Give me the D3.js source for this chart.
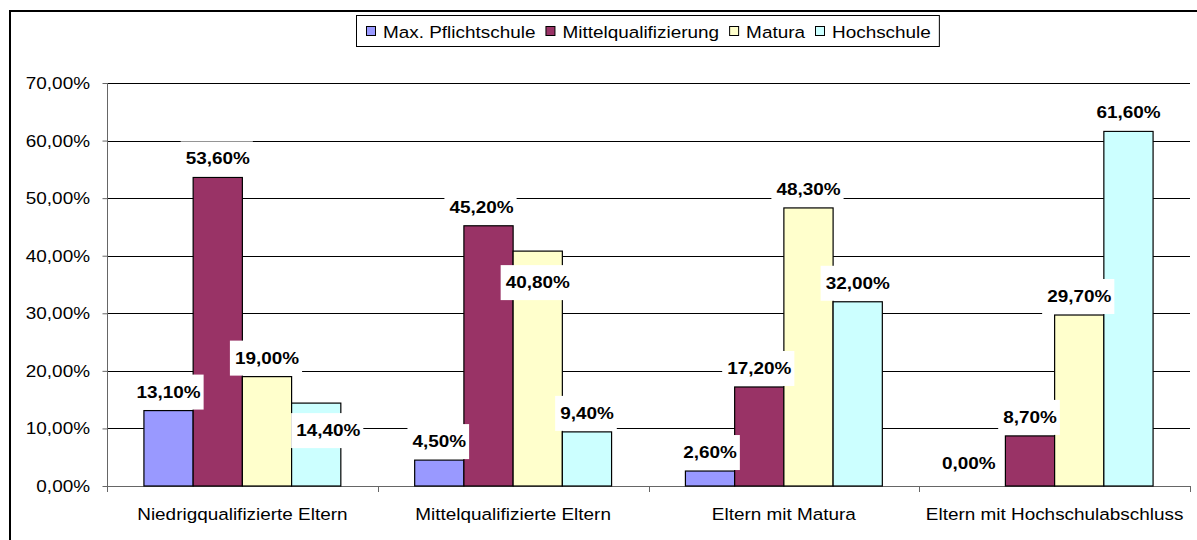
<!DOCTYPE html>
<html>
<head>
<meta charset="utf-8">
<script src="https://cdn.jsdelivr.net/npm/d3@7"></script>
<style>
  html, body { margin: 0; padding: 0; background: #fff; }
  svg { display: block; font-family: "Liberation Sans", Arial, sans-serif; }
</style>
</head>
<body>
<svg id="chart" width="1197" height="540"></svg>
<script>
// ---- data ----
const categories = ["Niedrigqualifizierte Eltern", "Mittelqualifizierte Eltern", "Eltern mit Matura", "Eltern mit Hochschulabschluss"];
const seriesNames = ["Max. Pflichtschule", "Mittelqualifizierung", "Matura", "Hochschule"];
const maxPflichtschule = [13.1, 4.5, 2.6, 0.0];
const mittelqualifizierung = [53.6, 45.2, 17.2, 8.7];
const matura = [19.0, 40.8, 48.3, 29.7];
const hochschule = [14.4, 9.4, 32.0, 61.6];
const yTicks = [0, 10, 20, 30, 40, 50, 60, 70];

const seriesValues = [maxPflichtschule, mittelqualifizierung, matura, hochschule];
const colors = ["#9999FF", "#993366", "#FFFFCC", "#CCFFFF"];
// manual label nudges (series index, category index) -> [dx, dy]
const labelNudge = { "3-0": [12, 46], "0-3": [-12, -4], "2-1": [0, 50], "1-1": [-7, 0] };

const fmt = v => v.toFixed(2).replace(".", ",") + "%";
const SX = 1.1; // horizontal text stretch of the original
const FS = 17.2;

const svg = d3.select("#chart");

// outer border
svg.append("rect").attr("x", 10).attr("y", 11).attr("width", 1200).attr("height", 560)
  .attr("fill", "none").attr("stroke", "#000").attr("stroke-width", 2);

const plot = { left: 107, right: 1190, top: 83, bottom: 486 };

const y = d3.scaleLinear().domain([0, 70]).range([plot.bottom, plot.top]);
const x0 = d3.scaleBand().domain(categories).range([plot.left, plot.right]).padding(0);
const x1 = d3.scaleBand().domain(d3.range(seriesNames.length)).range([0, x0.bandwidth()])
  .paddingInner(0).paddingOuter(0.75);

function stretchedText(parent, tx, ty, txt, opts) {
  const g = parent.append("g").attr("transform", `translate(${tx},${ty})`);
  const t = g.append("text")
    .attr("transform", `scale(${SX},1)`)
    .attr("text-anchor", opts.anchor || "middle")
    .attr("font-size", opts.size || FS)
    .attr("font-weight", opts.weight || "normal")
    .attr("fill", "#000")
    .text(txt);
  return { g, t };
}

// gridlines
svg.append("g").selectAll("line").data(yTicks.filter(d => d > 0)).join("line")
  .attr("x1", plot.left).attr("x2", plot.right)
  .attr("y1", d => Math.round(y(d)) + 0.5).attr("y2", d => Math.round(y(d)) + 0.5)
  .attr("stroke", "#000").attr("stroke-width", 1);

// y axis
const yAxisG = svg.append("g").attr("transform", `translate(${plot.left + 0.5},0)`)
  .call(d3.axisLeft(y).tickValues(yTicks).tickSize(5).tickFormat(""));
yAxisG.selectAll("path, line").attr("stroke", "#666");
yAxisG.select(".domain").attr("d", `M0,${plot.bottom}V${plot.top}`);
yTicks.forEach(v => {
  stretchedText(svg, 90, y(v) + 6, fmt(v), { anchor: "end", size: FS });
});

// x axis
svg.append("line").attr("x1", plot.left).attr("x2", plot.right)
  .attr("y1", plot.bottom + 0.5).attr("y2", plot.bottom + 0.5).attr("stroke", "#666");
const boundaries = categories.map(c => x0(c)).concat([plot.right]);
svg.append("g").selectAll("line").data(boundaries).join("line")
  .attr("x1", d => Math.round(d) + 0.5).attr("x2", d => Math.round(d) + 0.5)
  .attr("y1", plot.bottom).attr("y2", plot.bottom + 6).attr("stroke", "#666");
categories.forEach(c => {
  stretchedText(svg, x0(c) + x0.bandwidth() / 2, 520, c, { anchor: "middle", size: FS });
});

// bars
const barData = [];
categories.forEach((c, ci) => {
  seriesValues.forEach((vals, si) => {
    barData.push({ c, ci, si, v: vals[ci] });
  });
});
svg.append("g").selectAll("rect").data(barData.filter(d => d.v > 0)).join("rect")
  .attr("x", d => x0(d.c) + x1(d.si))
  .attr("y", d => y(d.v))
  .attr("width", x1.bandwidth())
  .attr("height", d => y(0) - y(d.v))
  .attr("fill", d => colors[d.si])
  .attr("stroke", "#000").attr("stroke-width", 1.2);

// labels with white boxes
const labelLayer = svg.append("g");
barData.forEach(d => {
  const nudge = labelNudge[`${d.si}-${d.ci}`] || [0, 0];
  const cx = x0(d.c) + x1(d.si) + x1.bandwidth() / 2 + nudge[0];
  const base = y(d.v) - 13 + nudge[1];
  const g = labelLayer.append("g");
  const rect = g.append("rect").attr("fill", "#fff");
  const { t } = stretchedText(g, cx, base, fmt(d.v), { anchor: "middle", size: FS, weight: "bold" });
  const w = t.node().getComputedTextLength() * SX;
  rect.attr("x", cx - w / 2 - 5).attr("y", base - 23).attr("width", w + 8).attr("height", 35);
});

// legend
const legend = svg.append("g");
const legendBox = legend.append("rect").attr("fill", "#fff").attr("stroke", "#000").attr("stroke-width", 1);
let lx = 0;
seriesNames.forEach((name, i) => {
  const g = legend.append("g");
  g.append("rect").attr("x", lx + 0.5).attr("y", 26.5).attr("width", 9).attr("height", 9)
    .attr("fill", colors[i]).attr("stroke", "#000").attr("stroke-width", 1);
  const { t } = stretchedText(g, lx + 17, 38, name, { anchor: "start", size: FS });
  const w = t.node().getComputedTextLength() * SX;
  lx += 17 + w + 10;
});
const totalW = lx - 10;
const legendLeft = 366;
legend.attr("transform", `translate(${legendLeft},0)`);
legendBox.attr("x", -9.5).attr("y", 15.5).attr("width", totalW + 9 + 9).attr("height", 31);
</script>
</body>
</html>
